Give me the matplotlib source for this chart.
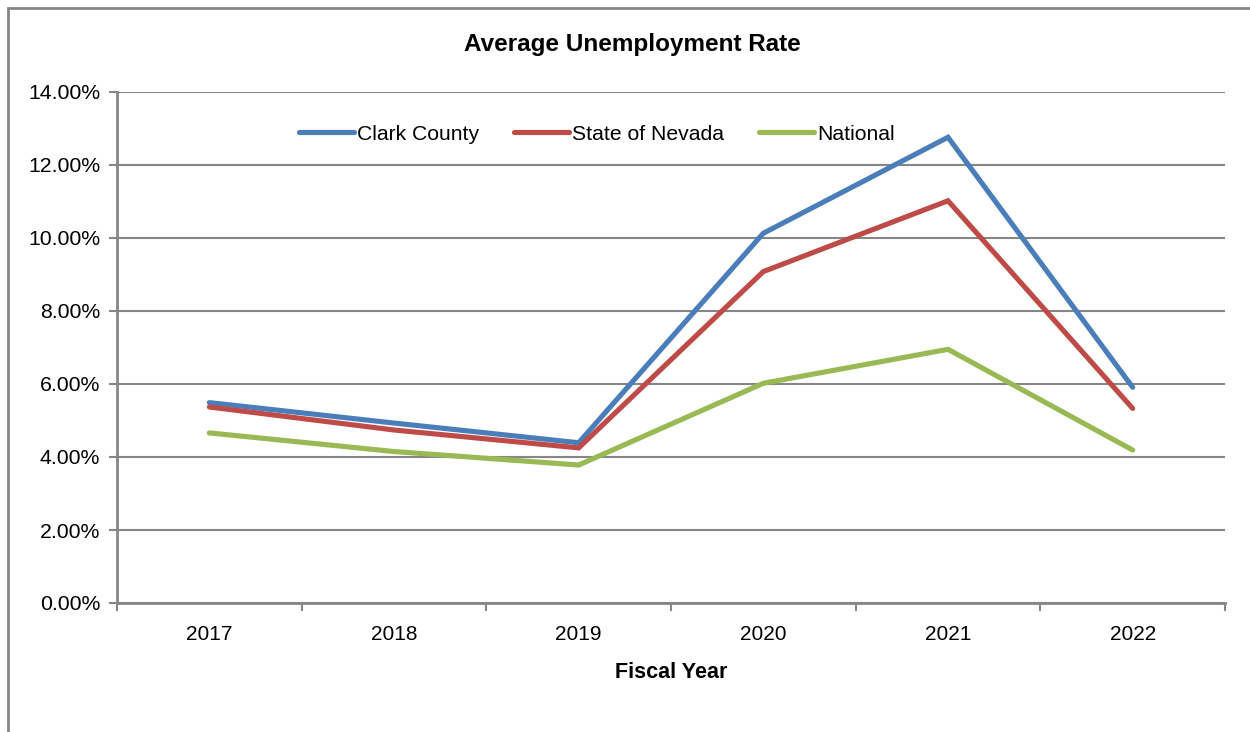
import matplotlib.pyplot as plt
from matplotlib.patches import Rectangle
from matplotlib.ticker import FuncFormatter, FixedLocator

years = ["2017", "2018", "2019", "2020", "2021", "2022"]
clark = [5.49, 4.93, 4.39, 10.13, 12.76, 5.91]
nevada = [5.37, 4.74, 4.25, 9.08, 11.02, 5.33]
national = [4.66, 4.15, 3.78, 6.02, 6.95, 4.19]

plt.rcParams['font.family'] = ['Liberation Sans', 'DejaVu Sans']
grey = '#868686'

fig = plt.figure(figsize=(12.5, 7.32), dpi=100)
ax = fig.add_axes([117 / 1250, 1 - 603 / 732, (1225 - 117) / 1250, (603 - 92) / 732])

# outer chart border (runs off the right and bottom edges)
fig.patches.append(Rectangle((8 / 1250, -0.2), 1.2, 1.2 - 8 / 732,
                             transform=fig.transFigure, fill=False,
                             edgecolor=grey, linewidth=2))

x = range(len(years))
style = dict(lw=3.7, solid_joinstyle='miter', solid_capstyle='round')
ax.plot(x, clark, color='#4A7EBB', label='Clark County', **style)
ax.plot(x, nevada, color='#BE4B48', label='State of Nevada', **style)
ax.plot(x, national, color='#98B954', label='National', **style)

ax.set_xlim(-0.5, len(years) - 0.5)
ax.set_ylim(0, 14)
ax.set_yticks(range(0, 15, 2))
ax.yaxis.set_major_formatter(FuncFormatter(lambda v, p: f"{v:.2f}%"))
ax.grid(axis='y', color=grey, lw=1.5)
ax.set_axisbelow(True)

ax.set_xticks(list(x))
ax.set_xticklabels(years, fontsize=15)
ax.xaxis.set_minor_locator(FixedLocator([i - 0.5 for i in range(len(years) + 1)]))
ax.tick_params(axis='x', which='major', length=0, pad=16)
ax.tick_params(axis='x', which='minor', length=6, width=1.5, color=grey)
ax.tick_params(axis='y', length=6, width=1.5, color=grey, labelsize=15.3, pad=6)

for side in ('top', 'right'):
    ax.spines[side].set_visible(False)
for side in ('left', 'bottom'):
    ax.spines[side].set_color(grey)
    ax.spines[side].set_linewidth(2)

ax.set_xlabel('Fiscal Year', fontsize=15.5, fontweight='bold', labelpad=13)
fig.text(632 / 1250, 1 - 44 / 732, 'Average Unemployment Rate', ha='center', va='center',
         fontsize=17.5, fontweight='bold')

fig.legend(loc='center', bbox_to_anchor=(597 / 1250, 1 - 134 / 732), ncol=3, frameon=False,
           fontsize=15.2, handlelength=2.6, handletextpad=0.15, columnspacing=1.65)

fig.savefig('out.png', dpi=100)
